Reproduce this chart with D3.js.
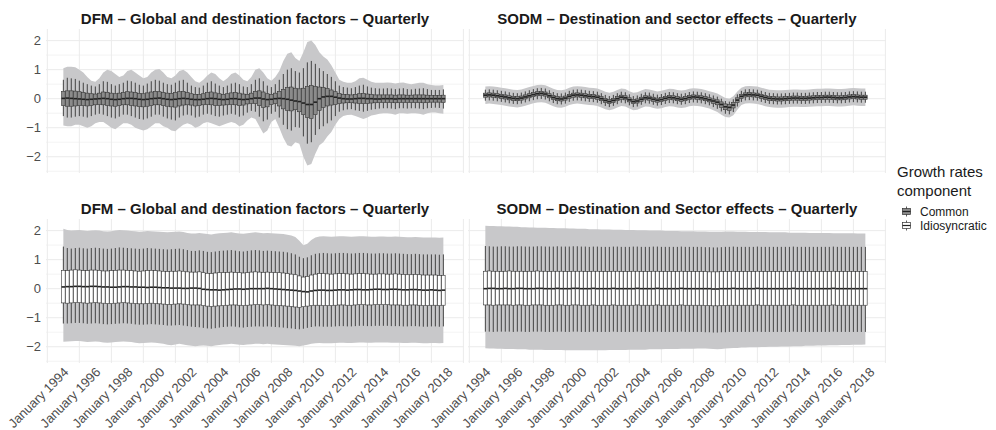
<!DOCTYPE html>
<html>
<head>
<meta charset="utf-8">
<script src="https://cdn.jsdelivr.net/npm/d3@7"></script>
<style>
  body { margin: 0; background: #fff; }
  svg { display: block; font-family: "Liberation Sans", Arial, Helvetica, sans-serif; }
</style>
</head>
<body>
<svg id="chart" width="996" height="430"></svg>
<script>
// Quarterly observations, 1994 Q1 to 2017 Q4
const quarters = d3.range(96).map(i => new Date(1994 + Math.floor(i / 4), (i % 4) * 3, 1));
const yTicks = [-2, -1, 0, 1, 2];
const xTickYears = [1994, 1996, 1998, 2000, 2002, 2004, 2006, 2008, 2010, 2012, 2014, 2016, 2018];
const componentNames = ["Common", "Idiosyncratic"];
const panelTitles = [
  "DFM – Global and destination factors – Quarterly",
  "SODM – Destination and sector effects – Quarterly",
  "DFM – Global and destination factors – Quarterly",
  "SODM – Destination and Sector effects – Quarterly"
];

// DFM, common component
const dfmComMed = [0.01,0.02,0.01,0.00,-0.01,-0.02,-0.03,-0.02, -0.01,0.00,0.01,0.00,-0.02,-0.03,-0.02,0.00, 0.01,0.01,0.00,-0.02,-0.03,-0.02,0.00,0.01, 0.02,0.00,-0.02,-0.03,-0.02,0.00,0.01,0.00, -0.02,-0.03,-0.03,-0.02,0.00,0.01,0.00,-0.02, -0.03,-0.02,0.00,0.00,-0.02,-0.03,-0.02,0.00, 0.02,0.02,-0.01,-0.03,-0.02,0.00,0.01,0.00, -0.02,-0.05,-0.08,-0.10,-0.15,-0.20,-0.20,-0.12, 0.00,0.06,0.08,0.08,0.05,0.02,0.00,-0.01, -0.01,0.00,0.01,0.01,0.00,0.00,-0.01,-0.01, 0.00,0.00,0.00,-0.01,0.00,0.00,0.00,0.00, 0.00,0.00,0.00,0.00,0.00,0.00,0.00,0.00];
const dfmComQ3 = [0.25,0.27,0.27,0.26,0.24,0.21,0.19,0.17, 0.16,0.19,0.23,0.22,0.19,0.17,0.19,0.21, 0.24,0.23,0.21,0.18,0.17,0.20,0.23,0.25, 0.24,0.21,0.19,0.18,0.21,0.24,0.25,0.21, 0.17,0.15,0.14,0.17,0.21,0.23,0.20,0.17, 0.15,0.17,0.20,0.21,0.19,0.16,0.15,0.19, 0.25,0.27,0.23,0.17,0.15,0.19,0.25,0.32, 0.38,0.40,0.36,0.34,0.36,0.42,0.45,0.42, 0.40,0.38,0.35,0.30,0.24,0.18,0.15,0.14, 0.13,0.15,0.17,0.18,0.16,0.14,0.13,0.13, 0.13,0.13,0.13,0.12,0.13,0.13,0.12,0.12, 0.13,0.13,0.13,0.12,0.11,0.11,0.11,0.12];
const dfmComQ1 = [-0.24,-0.26,-0.26,-0.25,-0.24,-0.24,-0.25,-0.23, -0.21,-0.20,-0.21,-0.23,-0.25,-0.26,-0.24,-0.21, -0.21,-0.23,-0.25,-0.27,-0.28,-0.26,-0.24,-0.21, -0.21,-0.24,-0.26,-0.28,-0.29,-0.25,-0.22,-0.21, -0.22,-0.25,-0.24,-0.21,-0.20,-0.21,-0.23,-0.24, -0.22,-0.21,-0.20,-0.21,-0.24,-0.22,-0.18,-0.16, -0.17,-0.24,-0.30,-0.28,-0.20,-0.17,-0.25,-0.35, -0.40,-0.42,-0.38,-0.45,-0.55,-0.65,-0.68,-0.55, -0.40,-0.30,-0.25,-0.22,-0.20,-0.17,-0.15,-0.14, -0.14,-0.15,-0.16,-0.17,-0.16,-0.15,-0.14,-0.13, -0.13,-0.13,-0.13,-0.14,-0.13,-0.13,-0.13,-0.13, -0.13,-0.13,-0.14,-0.13,-0.12,-0.12,-0.12,-0.13];
const dfmComHi = [0.65,0.72,0.70,0.68,0.62,0.55,0.50,0.45, 0.42,0.50,0.60,0.58,0.50,0.45,0.50,0.55, 0.62,0.60,0.55,0.48,0.45,0.52,0.60,0.65, 0.62,0.55,0.50,0.48,0.55,0.62,0.65,0.55, 0.45,0.40,0.38,0.45,0.55,0.60,0.52,0.45, 0.40,0.45,0.52,0.55,0.50,0.42,0.40,0.50, 0.65,0.70,0.60,0.45,0.40,0.50,0.65,0.85, 1.00,1.05,0.95,0.90,1.05,1.25,1.30,1.20, 1.05,0.95,0.85,0.75,0.60,0.45,0.40,0.38, 0.36,0.40,0.45,0.48,0.42,0.38,0.36,0.35, 0.35,0.36,0.35,0.33,0.35,0.36,0.33,0.32, 0.34,0.35,0.36,0.33,0.30,0.30,0.30,0.32];
const dfmComLo = [-0.60,-0.65,-0.65,-0.62,-0.60,-0.62,-0.65,-0.60, -0.55,-0.52,-0.55,-0.60,-0.65,-0.68,-0.62,-0.55, -0.55,-0.60,-0.65,-0.70,-0.72,-0.68,-0.62,-0.55, -0.55,-0.62,-0.68,-0.72,-0.75,-0.65,-0.58,-0.55, -0.58,-0.65,-0.62,-0.55,-0.52,-0.55,-0.60,-0.62, -0.58,-0.55,-0.52,-0.55,-0.62,-0.58,-0.48,-0.42, -0.45,-0.62,-0.78,-0.72,-0.52,-0.45,-0.65,-0.90, -1.05,-1.10,-0.98,-1.00,-1.30,-1.55,-1.50,-1.25, -1.05,-0.95,-0.85,-0.75,-0.60,-0.45,-0.40,-0.37, -0.36,-0.40,-0.42,-0.45,-0.42,-0.38,-0.36,-0.34, -0.33,-0.33,-0.34,-0.36,-0.33,-0.33,-0.34,-0.33, -0.33,-0.34,-0.36,-0.33,-0.32,-0.31,-0.32,-0.34];
const dfmComBandHi = [1.05,1.10,1.10,1.08,1.00,0.90,0.75,0.62, 0.58,0.70,0.90,1.00,0.95,0.85,0.75,0.80, 0.95,1.00,0.90,0.80,0.70,0.75,0.90,1.00, 1.02,0.90,0.75,0.70,0.80,0.95,1.00,0.90, 0.75,0.60,0.55,0.65,0.80,0.90,0.85,0.70, 0.60,0.70,0.85,0.90,0.80,0.65,0.60,0.75, 1.00,1.05,0.90,0.70,0.62,0.75,0.95,1.30, 1.55,1.60,1.40,1.30,1.60,1.95,2.00,1.85, 1.60,1.45,1.35,1.15,0.90,0.65,0.58,0.55, 0.55,0.60,0.70,0.72,0.65,0.58,0.55,0.55, 0.55,0.56,0.55,0.52,0.55,0.56,0.52,0.50, 0.52,0.55,0.55,0.50,0.47,0.45,0.45,0.47];
const dfmComBandLo = [-0.92,-0.95,-0.95,-0.90,-0.90,-0.95,-1.00,-0.95, -0.85,-0.80,-0.80,-0.90,-1.00,-1.05,-0.95,-0.85, -0.85,-0.90,-1.00,-1.05,-1.10,-1.05,-0.95,-0.85, -0.85,-0.95,-1.00,-1.10,-1.12,-1.00,-0.90,-0.85, -0.90,-1.00,-0.95,-0.85,-0.80,-0.85,-0.90,-0.95, -0.90,-0.85,-0.80,-0.85,-0.95,-0.90,-0.75,-0.65, -0.70,-0.95,-1.20,-1.10,-0.80,-0.70,-1.00,-1.35, -1.60,-1.65,-1.50,-1.55,-2.00,-2.30,-2.25,-1.90, -1.60,-1.50,-1.30,-1.15,-0.90,-0.70,-0.60,-0.56, -0.55,-0.60,-0.65,-0.70,-0.65,-0.58,-0.55,-0.52, -0.50,-0.50,-0.52,-0.55,-0.50,-0.50,-0.52,-0.50, -0.50,-0.52,-0.55,-0.50,-0.48,-0.48,-0.50,-0.52];

// SODM, common component
const sodmComMed = [0.12,0.13,0.12,0.10,0.08,0.06,0.03,0.01, 0.00,0.02,0.06,0.10,0.14,0.17,0.18,0.16, 0.10,0.04,0.00,-0.01,0.02,0.08,0.12,0.13, 0.12,0.10,0.08,0.07,0.05,0.00,-0.06,-0.10, -0.06,0.00,0.05,0.03,-0.04,-0.10,-0.08,-0.02, 0.03,0.02,-0.02,-0.05,-0.03,0.01,0.04,0.03, 0.00,-0.02,0.00,0.04,0.06,0.05,0.03,0.00, -0.04,-0.08,-0.12,-0.20,-0.28,-0.30,-0.22,-0.05, 0.08,0.13,0.14,0.13,0.12,0.08,0.04,0.01, 0.00,-0.01,-0.01,0.00,0.01,0.02,0.02,0.01, 0.01,0.02,0.03,0.04,0.04,0.05,0.05,0.04, 0.03,0.03,0.04,0.06,0.07,0.06,0.05,0.05];
const sodmComQ3 = [0.19,0.20,0.19,0.17,0.15,0.13,0.10,0.08, 0.07,0.09,0.13,0.17,0.21,0.24,0.25,0.23, 0.17,0.11,0.07,0.06,0.09,0.15,0.19,0.20, 0.19,0.17,0.15,0.14,0.12,0.07,0.01,-0.03, 0.01,0.07,0.12,0.10,0.03,-0.03,-0.01,0.05, 0.10,0.09,0.05,0.02,0.04,0.08,0.11,0.10, 0.07,0.05,0.07,0.11,0.13,0.12,0.10,0.07, 0.03,-0.01,-0.04,-0.11,-0.18,-0.20,-0.13,0.03, 0.15,0.20,0.21,0.20,0.19,0.15,0.11,0.08, 0.07,0.06,0.06,0.07,0.08,0.09,0.09,0.08, 0.08,0.09,0.10,0.11,0.11,0.12,0.12,0.11, 0.10,0.10,0.11,0.13,0.14,0.13,0.12,0.12];
const sodmComQ1 = [0.05,0.06,0.05,0.03,0.01,-0.01,-0.04,-0.06, -0.07,-0.05,-0.01,0.03,0.07,0.10,0.11,0.09, 0.03,-0.03,-0.07,-0.08,-0.05,0.01,0.05,0.06, 0.05,0.03,0.01,0.00,-0.02,-0.07,-0.13,-0.17, -0.13,-0.07,-0.02,-0.04,-0.11,-0.17,-0.15,-0.09, -0.04,-0.05,-0.09,-0.12,-0.10,-0.06,-0.03,-0.04, -0.07,-0.09,-0.07,-0.03,-0.01,-0.02,-0.04,-0.07, -0.11,-0.16,-0.21,-0.30,-0.38,-0.40,-0.32,-0.13, 0.01,0.06,0.07,0.06,0.05,0.01,-0.03,-0.06, -0.07,-0.08,-0.08,-0.07,-0.06,-0.05,-0.05,-0.06, -0.06,-0.05,-0.04,-0.03,-0.03,-0.02,-0.02,-0.03, -0.04,-0.04,-0.03,-0.01,0.00,-0.01,-0.02,-0.02];
const sodmComHi = [0.31,0.32,0.31,0.29,0.27,0.25,0.22,0.20, 0.19,0.21,0.25,0.29,0.33,0.36,0.37,0.35, 0.29,0.23,0.19,0.18,0.21,0.27,0.31,0.32, 0.31,0.29,0.27,0.26,0.24,0.19,0.13,0.09, 0.13,0.19,0.24,0.22,0.15,0.09,0.11,0.17, 0.22,0.21,0.17,0.14,0.16,0.20,0.23,0.22, 0.19,0.17,0.19,0.23,0.25,0.24,0.22,0.19, 0.15,0.11,0.07,0.00,-0.08,-0.10,-0.02,0.15, 0.27,0.32,0.33,0.32,0.31,0.27,0.23,0.20, 0.19,0.18,0.18,0.19,0.20,0.21,0.21,0.20, 0.20,0.21,0.22,0.23,0.23,0.24,0.24,0.23, 0.22,0.22,0.23,0.25,0.26,0.25,0.24,0.24];
const sodmComLo = [-0.07,-0.06,-0.07,-0.09,-0.11,-0.13,-0.16,-0.18, -0.19,-0.17,-0.13,-0.09,-0.05,-0.02,-0.01,-0.03, -0.09,-0.15,-0.19,-0.20,-0.17,-0.11,-0.07,-0.06, -0.07,-0.09,-0.11,-0.12,-0.14,-0.19,-0.25,-0.29, -0.25,-0.19,-0.14,-0.16,-0.23,-0.29,-0.27,-0.21, -0.16,-0.17,-0.21,-0.24,-0.22,-0.18,-0.15,-0.16, -0.19,-0.21,-0.19,-0.15,-0.13,-0.14,-0.16,-0.19, -0.23,-0.29,-0.35,-0.44,-0.52,-0.54,-0.46,-0.27, -0.11,-0.06,-0.05,-0.06,-0.07,-0.11,-0.15,-0.18, -0.19,-0.20,-0.20,-0.19,-0.18,-0.17,-0.17,-0.18, -0.18,-0.17,-0.16,-0.15,-0.15,-0.14,-0.14,-0.15, -0.16,-0.16,-0.15,-0.13,-0.12,-0.13,-0.14,-0.14];
const sodmComBandHi = [0.42,0.43,0.42,0.40,0.38,0.36,0.33,0.31, 0.30,0.32,0.36,0.40,0.44,0.47,0.48,0.46, 0.40,0.34,0.30,0.29,0.32,0.38,0.42,0.43, 0.42,0.40,0.38,0.37,0.35,0.30,0.24,0.20, 0.24,0.30,0.35,0.33,0.26,0.20,0.22,0.28, 0.33,0.32,0.28,0.25,0.27,0.31,0.34,0.33, 0.30,0.28,0.30,0.34,0.36,0.35,0.33,0.30, 0.26,0.22,0.18,0.10,0.02,0.00,0.08,0.25, 0.38,0.43,0.44,0.43,0.42,0.38,0.34,0.31, 0.30,0.29,0.29,0.30,0.31,0.32,0.32,0.31, 0.31,0.32,0.33,0.34,0.34,0.35,0.35,0.34, 0.33,0.33,0.34,0.36,0.37,0.36,0.35,0.35];
const sodmComBandLo = [-0.18,-0.17,-0.18,-0.20,-0.22,-0.24,-0.27,-0.29, -0.30,-0.28,-0.24,-0.20,-0.16,-0.13,-0.12,-0.14, -0.20,-0.26,-0.30,-0.31,-0.28,-0.22,-0.18,-0.17, -0.18,-0.20,-0.22,-0.23,-0.25,-0.30,-0.36,-0.40, -0.36,-0.30,-0.25,-0.27,-0.34,-0.40,-0.38,-0.32, -0.27,-0.28,-0.32,-0.35,-0.33,-0.29,-0.26,-0.27, -0.30,-0.32,-0.30,-0.26,-0.24,-0.25,-0.27,-0.30, -0.34,-0.40,-0.46,-0.55,-0.63,-0.65,-0.57,-0.38, -0.22,-0.17,-0.16,-0.17,-0.18,-0.22,-0.26,-0.29, -0.30,-0.31,-0.31,-0.30,-0.29,-0.28,-0.28,-0.29, -0.29,-0.28,-0.27,-0.26,-0.26,-0.25,-0.25,-0.26, -0.27,-0.27,-0.26,-0.24,-0.23,-0.24,-0.25,-0.25];

// DFM, idiosyncratic component
const dfmIdioMed = [0.06,0.07,0.07,0.08,0.08,0.07,0.07,0.08, 0.08,0.07,0.06,0.06,0.05,0.05,0.06,0.07, 0.07,0.06,0.06,0.05,0.05,0.04,0.05,0.05, 0.04,0.03,0.03,0.02,0.02,0.02,0.01,0.01, 0.02,0.02,0.01,-0.02,-0.03,-0.04,-0.04,-0.05, -0.04,-0.03,-0.02,-0.01,-0.01,-0.02,-0.01,0.00, 0.00,0.00,0.00,0.01,0.00,-0.01,-0.02,-0.03, -0.04,-0.05,-0.06,-0.08,-0.10,-0.11,-0.08,-0.06, -0.05,-0.05,-0.06,-0.06,-0.05,-0.04,-0.04,-0.05, -0.04,-0.03,-0.03,-0.04,-0.04,-0.03,-0.02,-0.02, -0.03,-0.03,-0.02,-0.02,-0.03,-0.04,-0.04,-0.03, -0.03,-0.04,-0.05,-0.05,-0.04,-0.05,-0.06,-0.05];
const dfmIdioQ3 = [0.63,0.62,0.64,0.65,0.64,0.62,0.62,0.64, 0.64,0.63,0.61,0.61,0.62,0.63,0.64,0.64, 0.63,0.62,0.61,0.60,0.61,0.62,0.63,0.62, 0.61,0.60,0.59,0.60,0.60,0.61,0.60,0.58, 0.57,0.57,0.58,0.55,0.53,0.52,0.54,0.55, 0.55,0.56,0.57,0.56,0.55,0.54,0.55,0.57, 0.58,0.57,0.56,0.57,0.56,0.55,0.55,0.54, 0.52,0.50,0.48,0.44,0.40,0.42,0.47,0.50, 0.52,0.52,0.51,0.50,0.51,0.52,0.52,0.51, 0.50,0.51,0.52,0.52,0.51,0.50,0.50,0.51, 0.51,0.50,0.50,0.51,0.50,0.49,0.48,0.48, 0.49,0.48,0.47,0.47,0.47,0.47,0.45,0.46];
const dfmIdioQ1 = [-0.49,-0.50,-0.49,-0.48,-0.48,-0.49,-0.50,-0.49, -0.48,-0.49,-0.50,-0.51,-0.51,-0.50,-0.49,-0.48, -0.49,-0.50,-0.51,-0.52,-0.52,-0.51,-0.50,-0.51, -0.52,-0.53,-0.54,-0.54,-0.53,-0.52,-0.53,-0.55, -0.56,-0.56,-0.56,-0.58,-0.60,-0.61,-0.60,-0.59, -0.58,-0.57,-0.56,-0.56,-0.57,-0.58,-0.57,-0.56, -0.55,-0.55,-0.56,-0.55,-0.56,-0.57,-0.58,-0.59, -0.60,-0.61,-0.63,-0.64,-0.62,-0.60,-0.58,-0.57, -0.57,-0.58,-0.58,-0.58,-0.57,-0.56,-0.56,-0.57, -0.57,-0.56,-0.55,-0.55,-0.56,-0.56,-0.55,-0.55, -0.55,-0.55,-0.56,-0.56,-0.56,-0.57,-0.57,-0.56, -0.56,-0.57,-0.58,-0.58,-0.57,-0.57,-0.58,-0.57];
const dfmIdioHi = [1.45,1.40,1.38,1.40,1.41,1.39,1.38,1.40, 1.41,1.40,1.38,1.37,1.38,1.40,1.42,1.41, 1.40,1.39,1.38,1.37,1.38,1.40,1.39,1.38, 1.37,1.36,1.35,1.36,1.37,1.38,1.36,1.33, 1.30,1.30,1.32,1.30,1.27,1.26,1.28,1.30, 1.31,1.32,1.33,1.31,1.29,1.28,1.30,1.32, 1.33,1.32,1.30,1.31,1.30,1.29,1.28,1.27, 1.25,1.22,1.18,1.10,1.05,1.08,1.15,1.20, 1.22,1.23,1.22,1.21,1.22,1.23,1.23,1.22, 1.21,1.22,1.23,1.23,1.22,1.21,1.21,1.22, 1.22,1.21,1.21,1.22,1.21,1.20,1.19,1.19, 1.20,1.19,1.18,1.18,1.18,1.18,1.17,1.18];
const dfmIdioLo = [-1.20,-1.20,-1.19,-1.18,-1.18,-1.19,-1.21,-1.20, -1.19,-1.20,-1.22,-1.23,-1.22,-1.21,-1.20,-1.19, -1.20,-1.21,-1.23,-1.24,-1.24,-1.23,-1.22,-1.23, -1.24,-1.25,-1.27,-1.27,-1.26,-1.25,-1.27,-1.29, -1.31,-1.32,-1.33,-1.35,-1.37,-1.38,-1.36,-1.34, -1.32,-1.31,-1.30,-1.31,-1.33,-1.34,-1.32,-1.31, -1.30,-1.30,-1.31,-1.30,-1.31,-1.32,-1.33,-1.34, -1.36,-1.37,-1.39,-1.40,-1.38,-1.35,-1.32,-1.30, -1.30,-1.31,-1.31,-1.31,-1.30,-1.29,-1.29,-1.30, -1.30,-1.29,-1.28,-1.28,-1.29,-1.29,-1.28,-1.28, -1.28,-1.28,-1.29,-1.29,-1.29,-1.30,-1.30,-1.29, -1.29,-1.30,-1.31,-1.31,-1.30,-1.30,-1.31,-1.30];
const dfmIdioBandHi = [2.06,2.02,2.00,2.01,2.02,2.00,1.99,2.00, 2.01,2.00,1.98,1.97,1.98,2.00,2.02,2.01, 2.00,1.99,1.98,1.96,1.97,1.99,1.98,1.97, 1.96,1.95,1.94,1.95,1.96,1.97,1.95,1.92, 1.90,1.90,1.92,1.90,1.88,1.87,1.89,1.91, 1.92,1.93,1.94,1.92,1.90,1.89,1.91,1.93, 1.94,1.93,1.91,1.92,1.91,1.90,1.89,1.88, 1.86,1.83,1.78,1.65,1.50,1.55,1.68,1.76, 1.80,1.81,1.80,1.79,1.80,1.81,1.81,1.80, 1.79,1.80,1.81,1.81,1.80,1.79,1.79,1.80, 1.80,1.79,1.79,1.80,1.79,1.78,1.77,1.77, 1.78,1.77,1.76,1.76,1.76,1.76,1.75,1.76];
const dfmIdioBandLo = [-1.83,-1.82,-1.81,-1.80,-1.80,-1.82,-1.84,-1.83, -1.82,-1.83,-1.85,-1.86,-1.85,-1.84,-1.83,-1.82, -1.83,-1.84,-1.86,-1.88,-1.87,-1.86,-1.85,-1.86, -1.88,-1.90,-1.93,-1.95,-1.92,-1.90,-1.92,-1.95, -1.97,-1.98,-1.97,-1.96,-1.97,-1.98,-1.96,-1.94, -1.92,-1.91,-1.90,-1.91,-1.93,-1.94,-1.92,-1.91, -1.90,-1.90,-1.91,-1.90,-1.91,-1.92,-1.93,-1.94, -1.95,-1.96,-1.97,-1.98,-1.96,-1.93,-1.90,-1.88, -1.87,-1.88,-1.88,-1.88,-1.87,-1.86,-1.86,-1.87, -1.87,-1.86,-1.85,-1.85,-1.86,-1.86,-1.85,-1.85, -1.85,-1.85,-1.86,-1.86,-1.86,-1.87,-1.87,-1.86, -1.86,-1.87,-1.88,-1.88,-1.87,-1.87,-1.88,-1.87];

// SODM, idiosyncratic component
const sodmIdioMed = [0.00,0.01,0.01,0.00,0.00,0.01,0.00,0.00, 0.01,0.01,0.00,0.00,0.00,0.01,0.01,0.00, 0.00,0.00,0.01,0.00,0.00,0.00,0.01,0.01, 0.00,0.00,0.00,0.01,0.00,0.00,0.00,0.00, 0.01,0.00,0.00,0.00,0.00,0.00,0.01,0.00, 0.00,0.00,0.00,0.01,0.00,0.00,0.00,0.00, 0.00,0.01,0.00,0.00,0.00,0.00,0.00,0.00, 0.00,-0.01,-0.01,0.00,0.00,0.00,0.01,0.00, 0.00,0.00,0.00,0.00,0.01,0.00,0.00,0.00, 0.00,0.00,0.00,0.00,0.00,0.01,0.00,0.00, 0.00,0.00,0.00,0.00,0.00,0.00,0.00,0.01, 0.00,0.00,0.00,0.00,0.00,0.00,0.00,0.00];
const sodmIdioQ3 = [0.60,0.61,0.60,0.60,0.59,0.60,0.61,0.60, 0.60,0.60,0.59,0.60,0.60,0.61,0.60,0.60, 0.59,0.60,0.60,0.60,0.59,0.59,0.60,0.60, 0.60,0.59,0.59,0.60,0.60,0.59,0.59,0.59, 0.60,0.60,0.59,0.59,0.59,0.60,0.60,0.59, 0.59,0.59,0.60,0.60,0.59,0.59,0.59,0.59, 0.59,0.60,0.59,0.59,0.59,0.59,0.59,0.59, 0.58,0.58,0.58,0.59,0.59,0.59,0.60,0.59, 0.59,0.59,0.59,0.59,0.60,0.59,0.59,0.59, 0.59,0.59,0.59,0.59,0.59,0.60,0.59,0.59, 0.59,0.59,0.59,0.59,0.59,0.59,0.59,0.60, 0.59,0.59,0.59,0.59,0.59,0.59,0.59,0.59];
const sodmIdioQ1 = [-0.56,-0.56,-0.57,-0.56,-0.56,-0.56,-0.56,-0.57, -0.56,-0.56,-0.57,-0.57,-0.56,-0.56,-0.56,-0.57, -0.57,-0.57,-0.56,-0.56,-0.57,-0.57,-0.56,-0.56, -0.57,-0.57,-0.57,-0.56,-0.57,-0.57,-0.57,-0.57, -0.56,-0.57,-0.57,-0.57,-0.57,-0.57,-0.56,-0.57, -0.57,-0.57,-0.57,-0.56,-0.57,-0.57,-0.57,-0.57, -0.57,-0.56,-0.57,-0.57,-0.57,-0.57,-0.57,-0.58, -0.58,-0.59,-0.59,-0.58,-0.58,-0.57,-0.57,-0.57, -0.57,-0.57,-0.57,-0.57,-0.56,-0.57,-0.57,-0.57, -0.57,-0.57,-0.57,-0.57,-0.57,-0.56,-0.57,-0.57, -0.57,-0.57,-0.57,-0.57,-0.57,-0.57,-0.57,-0.56, -0.57,-0.57,-0.57,-0.57,-0.57,-0.57,-0.57,-0.57];
const sodmIdioHi = [1.47,1.46,1.45,1.45,1.46,1.46,1.45,1.45, 1.46,1.46,1.45,1.45,1.45,1.46,1.46,1.45, 1.45,1.45,1.46,1.45,1.45,1.45,1.46,1.46, 1.45,1.45,1.44,1.45,1.45,1.44,1.44,1.44, 1.45,1.45,1.44,1.44,1.44,1.45,1.45,1.44, 1.44,1.44,1.45,1.45,1.44,1.44,1.44,1.44, 1.44,1.45,1.44,1.44,1.44,1.44,1.44,1.43, 1.43,1.42,1.42,1.43,1.44,1.44,1.45,1.44, 1.44,1.44,1.44,1.44,1.45,1.44,1.44,1.44, 1.44,1.44,1.44,1.44,1.44,1.45,1.44,1.44, 1.44,1.44,1.44,1.44,1.44,1.44,1.44,1.45, 1.44,1.44,1.44,1.44,1.44,1.44,1.44,1.44];
const sodmIdioLo = [-1.48,-1.48,-1.49,-1.48,-1.48,-1.48,-1.48,-1.49, -1.48,-1.48,-1.49,-1.49,-1.48,-1.48,-1.48,-1.49, -1.49,-1.49,-1.48,-1.48,-1.49,-1.49,-1.48,-1.48, -1.49,-1.49,-1.49,-1.48,-1.49,-1.49,-1.49,-1.49, -1.48,-1.49,-1.49,-1.49,-1.49,-1.49,-1.48,-1.49, -1.49,-1.49,-1.49,-1.48,-1.49,-1.49,-1.49,-1.49, -1.49,-1.48,-1.49,-1.49,-1.49,-1.49,-1.49,-1.50, -1.50,-1.51,-1.51,-1.50,-1.50,-1.49,-1.49,-1.49, -1.49,-1.49,-1.49,-1.49,-1.48,-1.49,-1.49,-1.49, -1.49,-1.49,-1.49,-1.49,-1.49,-1.48,-1.49,-1.49, -1.49,-1.49,-1.49,-1.49,-1.49,-1.49,-1.49,-1.48, -1.49,-1.49,-1.49,-1.49,-1.49,-1.49,-1.49,-1.49];
const sodmIdioBandHi = [2.17,2.16,2.16,2.15,2.15,2.14,2.14,2.13, 2.13,2.12,2.12,2.11,2.11,2.10,2.10,2.10, 2.09,2.09,2.08,2.08,2.08,2.07,2.07,2.06, 2.06,2.06,2.05,2.05,2.05,2.04,2.04,2.04, 2.03,2.03,2.03,2.02,2.02,2.02,2.01,2.01, 2.01,2.00,2.00,2.00,2.00,1.99,1.99,1.99, 1.99,1.98,1.98,1.98,1.98,1.97,1.97,1.97, 1.96,1.96,1.96,1.96,1.97,1.97,1.97,1.96, 1.96,1.96,1.95,1.95,1.95,1.95,1.95,1.94, 1.94,1.94,1.94,1.94,1.93,1.93,1.93,1.93, 1.93,1.92,1.92,1.92,1.92,1.92,1.92,1.91, 1.91,1.91,1.91,1.91,1.91,1.90,1.90,1.90];
const sodmIdioBandLo = [-2.05,-2.06,-2.06,-2.07,-2.07,-2.08,-2.08,-2.08, -2.09,-2.09,-2.09,-2.10,-2.10,-2.10,-2.10,-2.11, -2.11,-2.11,-2.11,-2.11,-2.12,-2.12,-2.12,-2.12, -2.12,-2.12,-2.12,-2.12,-2.12,-2.12,-2.12,-2.11, -2.11,-2.11,-2.11,-2.11,-2.10,-2.10,-2.10,-2.10, -2.10,-2.09,-2.09,-2.09,-2.09,-2.08,-2.08,-2.08, -2.08,-2.07,-2.07,-2.07,-2.07,-2.06,-2.06,-2.06, -2.07,-2.08,-2.09,-2.08,-2.06,-2.05,-2.04,-2.04, -2.03,-2.03,-2.02,-2.02,-2.02,-2.01,-2.01,-2.00, -2.00,-2.00,-1.99,-1.99,-1.99,-1.98,-1.98,-1.98, -1.97,-1.97,-1.97,-1.96,-1.96,-1.96,-1.95,-1.95, -1.95,-1.94,-1.94,-1.94,-1.93,-1.93,-1.93,-1.92];

const componentFill = { Common: "#8b8b8b", Idiosyncratic: "#ffffff" };

const panels = [
  { title: panelTitles[0], comp: "Common", left: 46, top: 29, xAxis: false,
    med: dfmComMed, q1: dfmComQ1, q3: dfmComQ3, lo: dfmComLo, hi: dfmComHi, bandLo: dfmComBandLo, bandHi: dfmComBandHi },
  { title: panelTitles[1], comp: "Common", left: 468, top: 29, xAxis: false,
    med: sodmComMed, q1: sodmComQ1, q3: sodmComQ3, lo: sodmComLo, hi: sodmComHi, bandLo: sodmComBandLo, bandHi: sodmComBandHi },
  { title: panelTitles[2], comp: "Idiosyncratic", left: 46, top: 219, xAxis: true,
    med: dfmIdioMed, q1: dfmIdioQ1, q3: dfmIdioQ3, lo: dfmIdioLo, hi: dfmIdioHi, bandLo: dfmIdioBandLo, bandHi: dfmIdioBandHi },
  { title: panelTitles[3], comp: "Idiosyncratic", left: 468, top: 219, xAxis: true,
    med: sodmIdioMed, q1: sodmIdioQ1, q3: sodmIdioQ3, lo: sodmIdioLo, hi: sodmIdioHi, bandLo: sodmIdioBandLo, bandHi: sodmIdioBandHi }
];

const panelW = 418, panelH = 144;
const svg = d3.select("#chart");

const x = d3.scaleTime()
  .domain([new Date(1992, 11, 1), new Date(2019, 0, 15)])
  .range([0, panelW]);
const y = d3.scaleLinear().domain([-2.56, 2.40]).range([panelH, 0]);

const gridYears = d3.range(1993, 2020, 2).map(yr => new Date(yr, 0, 1));
const gridY = d3.range(-2.5, 2.01, 0.5);
const boxW = 3.6;

panels.forEach(p => {
  const g = svg.append("g").attr("transform", `translate(${p.left},${p.top})`);

  // grid
  g.append("g").selectAll("line").data(gridY).join("line")
    .attr("x1", 0).attr("x2", panelW)
    .attr("y1", d => y(d)).attr("y2", d => y(d))
    .attr("stroke", "#ebebeb")
    .attr("stroke-width", d => Number.isInteger(d) ? 1 : 0.6);
  g.append("g").selectAll("line").data(gridYears).join("line")
    .attr("x1", d => x(d)).attr("x2", d => x(d))
    .attr("y1", 0).attr("y2", panelH)
    .attr("stroke", "#ebebeb").attr("stroke-width", 1);

  const rows = quarters.map((d, i) => ({
    date: d, med: p.med[i], q1: p.q1[i], q3: p.q3[i], lo: p.lo[i], hi: p.hi[i],
    bandLo: p.bandLo[i], bandHi: p.bandHi[i]
  }));

  // spread band
  g.append("path").datum(rows)
    .attr("fill", "#c8c8ca")
    .attr("d", d3.area().x(d => x(d.date)).y0(d => y(d.bandLo)).y1(d => y(d.bandHi)));

  // box plots
  const bx = g.append("g").selectAll("g").data(rows).join("g");
  bx.append("line")
    .attr("x1", d => x(d.date)).attr("x2", d => x(d.date))
    .attr("y1", d => y(d.hi)).attr("y2", d => y(d.q3))
    .attr("stroke", "#333").attr("stroke-width", 0.9);
  bx.append("line")
    .attr("x1", d => x(d.date)).attr("x2", d => x(d.date))
    .attr("y1", d => y(d.q1)).attr("y2", d => y(d.lo))
    .attr("stroke", "#333").attr("stroke-width", 0.9);
  bx.append("rect")
    .attr("x", d => x(d.date) - boxW / 2).attr("width", boxW)
    .attr("y", d => y(d.q3)).attr("height", d => Math.max(0.1, y(d.q1) - y(d.q3)))
    .attr("fill", componentFill[p.comp])
    .attr("stroke", "#333").attr("stroke-width", 0.6);
  bx.append("line")
    .attr("x1", d => x(d.date) - boxW / 2).attr("x2", d => x(d.date) + boxW / 2)
    .attr("y1", d => y(d.med)).attr("y2", d => y(d.med))
    .attr("stroke", "#222").attr("stroke-width", 1.6);

  // title
  svg.append("text")
    .attr("x", p.left + panelW / 2).attr("y", p.top - 5)
    .attr("text-anchor", "middle")
    .attr("font-size", 15).attr("font-weight", "bold").attr("fill", "#1a1a1a")
    .text(p.title);

  // y axis labels (left column only)
  if (p.left < 100) {
    g.append("g").selectAll("text").data(yTicks).join("text")
      .attr("x", -5).attr("y", d => y(d)).attr("dy", "0.35em")
      .attr("text-anchor", "end").attr("font-size", 13).attr("fill", "#4d4d4d")
      .text(d => d3.format("d")(d).replace("-", "\u2212"));
  }

  // x axis labels (bottom row only)
  if (p.xAxis) {
    g.append("g").selectAll("text").data(xTickYears).join("text")
      .attr("transform", d => `translate(${x(new Date(d, 0, 1)) + 6},${panelH + 10}) rotate(-45)`)
      .attr("text-anchor", "end").attr("font-size", 13).attr("fill", "#4d4d4d")
      .text(d => d3.timeFormat("%B %Y")(new Date(d, 0, 1)));
  }
});

// legend
const lg = svg.append("g").attr("transform", "translate(897,0)");
lg.append("text").attr("x", 0).attr("y", 177).attr("font-size", 15).attr("fill", "#1a1a1a").text("Growth rates");
lg.append("text").attr("x", 0).attr("y", 196).attr("font-size", 15).attr("fill", "#1a1a1a").text("component");
componentNames.forEach((name, k) => {
  const cy = 211.5 + k * 14;
  const kg = lg.append("g").attr("transform", `translate(9.5,${cy})`);
  kg.append("line").attr("x1", 0).attr("x2", 0).attr("y1", -5).attr("y2", 5).attr("stroke", "#333").attr("stroke-width", 0.8);
  kg.append("rect").attr("x", -4).attr("y", -3).attr("width", 8).attr("height", 6)
    .attr("fill", componentFill[name]).attr("stroke", "#333").attr("stroke-width", 0.7);
  kg.append("line").attr("x1", -4).attr("x2", 4).attr("y1", 0).attr("y2", 0).attr("stroke", "#222").attr("stroke-width", 1.2);
  lg.append("text").attr("x", 23).attr("y", cy + 4.3).attr("font-size", 12).attr("fill", "#1a1a1a").text(name);
});
</script>
</body>
</html>
